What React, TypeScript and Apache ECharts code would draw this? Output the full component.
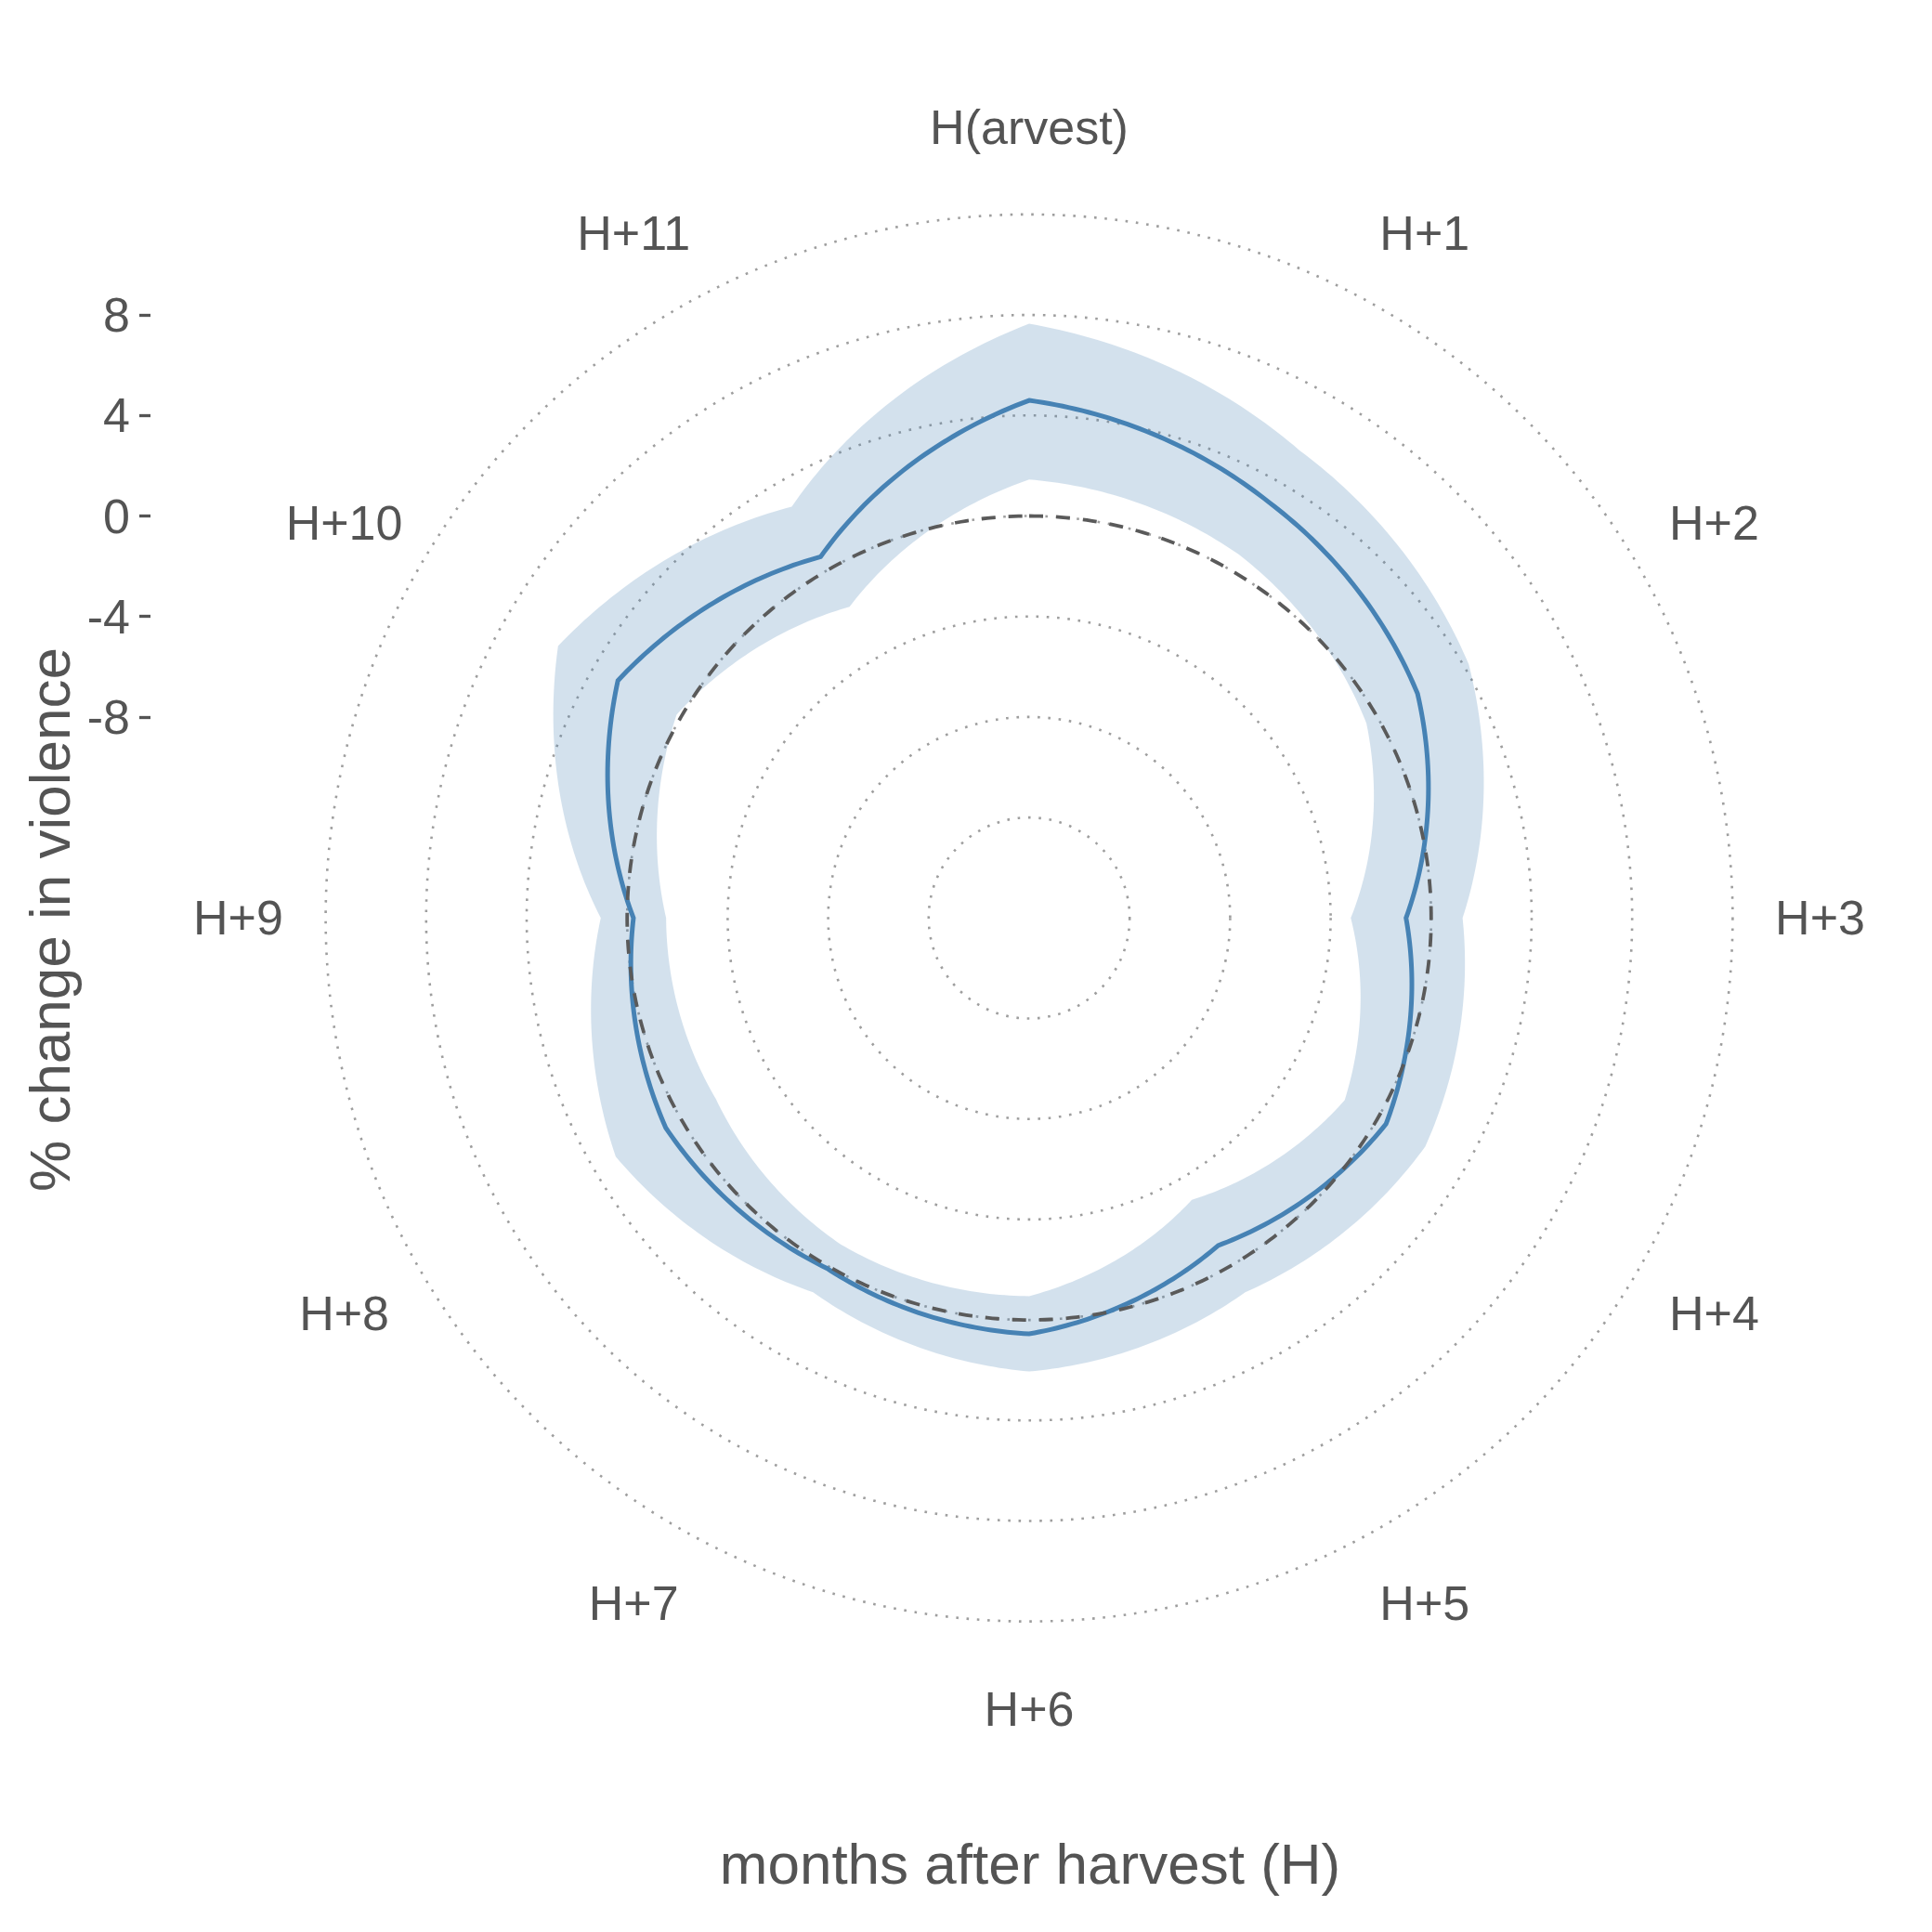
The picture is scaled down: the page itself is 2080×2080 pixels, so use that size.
import React, { useEffect, useRef } from "react";
import * as echarts from "echarts";

// ---- data ----
const months = ["H(arvest)", "H+1", "H+2", "H+3", "H+4", "H+5", "H+6", "H+7", "H+8", "H+9", "H+10", "H+11"];
const effect = [4.6, 3.1, 1.85, -1.0, 0.4, -0.95, 0.55, 0.1, 0.7, -0.25, 2.9, 0.6];
const upper = [7.65, 5.5, 4.2, 1.25, 2.2, 1.2, 2.05, 1.2, 3.0, 1.05, 5.65, 2.9];
const lower = [1.45, 0.7, -0.5, -3.2, -1.5, -3.05, -0.95, -1.0, -1.6, -1.55, 0.2, -1.7];
const referenceLevel = 0;
const radialTicks = [-8, -4, 0, 4, 8];
const RADIUS_MIN = -16;
const RADIUS_MAX = 12;
const RADIUS_STEP = 4;
const LABEL_R = 15.48;

// ---- layout ----
const CX = 1108;
const CY = 988.3;
const R_OUT = 757.4;
const FONT = "'Liberation Sans', Arial, Helvetica, sans-serif";
const TEXT = "#545454";

// straight segments in (angle, value) data space, drawn through the polar scales
function ringPoints(api: any, values: number[], steps = 40) {
  const pts: number[][] = [];
  const n = values.length;
  for (let i = 0; i < n; i++) {
    const a = values[i];
    const b = values[(i + 1) % n];
    for (let s = 0; s < steps; s++) {
      const t = s / steps;
      pts.push(api.coord([a + (b - a) * t, i + t]));
    }
  }
  pts.push(api.coord([values[0], n]));
  return pts;
}

export default function App() {
  const ref = useRef<HTMLDivElement>(null);
  useEffect(() => {
    if (!ref.current) return;
    const chart = echarts.init(ref.current, null, { renderer: "svg" });
    const n = months.length;
    const option: any = {
      animation: false,
      backgroundColor: "#ffffff",
      tooltip: { show: false },
      polar: { center: [CX, CY], radius: [0, R_OUT] },
      angleAxis: {
        type: "value",
        min: 0,
        max: n,
        interval: 1,
        startAngle: 90,
        clockwise: true,
        axisLine: { show: false },
        axisTick: { show: false },
        axisLabel: { show: false },
        splitLine: { show: false },
      },
      radiusAxis: {
        type: "value",
        min: RADIUS_MIN,
        max: RADIUS_MAX,
        interval: RADIUS_STEP,
        axisLine: { show: false },
        axisTick: { show: false },
        axisLabel: { show: false },
        splitLine: {
          show: true,
          lineStyle: { color: "#9e9e9e", width: 2.6, type: [2.6, 8.7] },
        },
      },
      grid: { left: 162, top: CY - R_OUT, width: 10, height: R_OUT },
      xAxis: { type: "value", show: false },
      yAxis: {
        type: "value",
        min: RADIUS_MIN,
        max: RADIUS_MAX,
        interval: RADIUS_STEP,
        axisLine: { show: false },
        splitLine: { show: false },
        axisTick: {
          show: true,
          length: 12,
          customValues: radialTicks,
          lineStyle: { color: TEXT, width: 3.3 },
        },
        axisLabel: {
          customValues: radialTicks,
          margin: 22,
          fontSize: 52,
          color: TEXT,
          fontFamily: FONT,
        },
      },
      graphic: [
        {
          type: "text",
          x: 1109,
          y: 2006,
          style: {
            text: "months after harvest (H)",
            fill: TEXT,
            fontSize: 62,
            fontFamily: FONT,
            align: "center",
            verticalAlign: "middle",
          },
        },
        {
          type: "text",
          x: 53,
          y: 990,
          rotation: Math.PI / 2,
          style: {
            text: "% change in violence",
            fill: TEXT,
            fontSize: 62,
            fontFamily: FONT,
            align: "center",
            verticalAlign: "middle",
          },
        },
      ],
      series: [
        {
          type: "custom",
          coordinateSystem: "polar",
          silent: true,
          clip: false,
          z: 1,
          data: [[0, 0]],
          renderItem: (params: any, api: any) => {
            const outer = ringPoints(api, upper);
            const inner = ringPoints(api, lower).reverse();
            return {
              type: "polygon",
              shape: { points: outer.concat(inner) },
              style: { fill: "rgba(70,130,180,0.24)", stroke: "none" },
            };
          },
        },
        {
          type: "custom",
          coordinateSystem: "polar",
          silent: true,
          clip: false,
          z: 2,
          data: [[0, 0]],
          renderItem: (params: any, api: any) => ({
            type: "polygon",
            shape: { points: ringPoints(api, effect) },
            style: { fill: "none", stroke: "#4682B4", lineWidth: 5 },
          }),
        },
        {
          type: "custom",
          coordinateSystem: "polar",
          silent: true,
          clip: false,
          z: 3,
          data: [[0, 0]],
          renderItem: (params: any, api: any) => ({
            type: "polygon",
            shape: { points: ringPoints(api, months.map(() => referenceLevel)) },
            style: { fill: "none", stroke: "#5a5a5a", lineWidth: 3.8, lineDash: [15, 14] },
          }),
        },
        {
          type: "custom",
          coordinateSystem: "polar",
          silent: true,
          clip: false,
          z: 4,
          data: months.map((m, i) => [LABEL_R, i]),
          renderItem: (params: any, api: any) => {
            const p = api.coord([api.value(0), api.value(1)]);
            return {
              type: "text",
              x: p[0],
              y: p[1],
              style: {
                text: months[params.dataIndex],
                fill: TEXT,
                fontSize: 52,
                fontFamily: FONT,
                align: "center",
                verticalAlign: "middle",
              },
            };
          },
        },
      ],
    };
    chart.setOption(option);
    return () => chart.dispose();
  }, []);
  return (
    <div
      ref={ref}
      style={{ position: "absolute", left: 0, top: 0, width: 2080, height: 2080 }}
    />
  );
}
